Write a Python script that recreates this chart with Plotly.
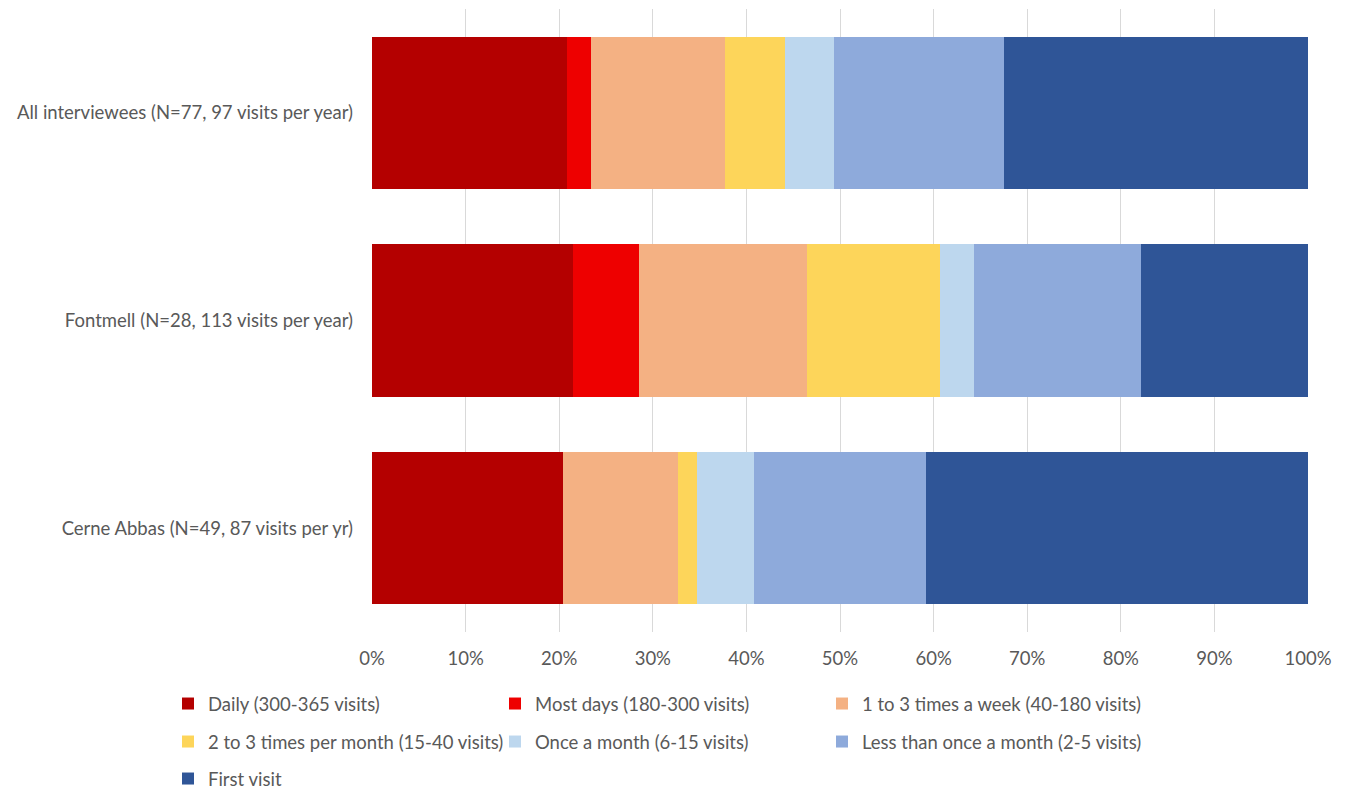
import plotly.graph_objects as go

categories = ["All interviewees (N=77, 97 visits per year)",
              "Fontmell (N=28, 113 visits per year)",
              "Cerne Abbas (N=49, 87 visits per yr)"]

series_names = ["Daily (300-365 visits)", "Most days (180-300 visits)",
                "1 to 3 times a week (40-180 visits)",
                "2 to 3 times per month (15-40 visits)", "Once a month (6-15 visits)",
                "Less than once a month (2-5 visits)", "First visit"]

daily = [20.78, 21.43, 20.41]
most_days = [2.60, 7.14, 0.0]
week_1_3 = [14.29, 17.86, 12.24]
month_2_3 = [6.49, 14.29, 2.04]
once_month = [5.19, 3.57, 6.12]
less_month = [18.18, 17.86, 18.37]
first_visit = [32.47, 17.86, 40.82]

colors = ["#b40000", "#ee0000", "#f4b183", "#fdd55a", "#bdd7ee", "#8eaadb", "#2f5597"]
series_values = [daily, most_days, week_1_3, month_2_3, once_month, less_month, first_visit]
legend_rows = ["legend", "legend", "legend", "legend2", "legend2", "legend2", "legend3"]

FONT = "Lato, 'Open Sans', sans-serif"
GREY = "#595959"
FS = 18.5

W, H = 1347, 792
ML, MR, MT, MB = 372, 39, 9, 160
PW, PH = W - ML - MR, H - MT - MB


def px_to_paper_y(py):
    return (H - MB - py) / PH


def px_to_paper_x(px):
    return (px - ML) / PW


fig = go.Figure()
for name, vals, col, lg in zip(series_names, series_values, colors, legend_rows):
    fig.add_trace(go.Bar(
        y=categories, x=vals, name=name, orientation="h",
        marker=dict(color=col, line=dict(width=0)),
        legend=lg,
    ))

leg_common = dict(orientation="h", xref="paper", yref="paper",
                  x=px_to_paper_x(168), xanchor="left", yanchor="middle",
                  font=dict(family=FONT, size=FS, color=GREY),
                  entrywidth=282, entrywidthmode="pixels",
                  bgcolor="rgba(0,0,0,0)", itemwidth=30, traceorder="normal")

fig.update_layout(
    width=W, height=H,
    barmode="stack", bargap=0.265,
    plot_bgcolor="white", paper_bgcolor="white",
    margin=dict(l=ML, r=MR, t=MT, b=MB, autoexpand=False),
    font=dict(family=FONT, size=FS, color=GREY),
    xaxis=dict(range=[0, 100], dtick=10, ticksuffix="%", showgrid=True,
               gridcolor="#d9d9d9", gridwidth=1, zeroline=False,
               showline=False, ticks="", ticklabelstandoff=13,
               tickfont=dict(family=FONT, size=FS, color=GREY)),
    yaxis=dict(autorange="reversed", showgrid=False, zeroline=False,
               showline=False, ticks="", ticklabelstandoff=18,
               tickfont=dict(family=FONT, size=FS, color=GREY)),
    legend=dict(leg_common, y=px_to_paper_y(704)),
    legend2=dict(leg_common, y=px_to_paper_y(742)),
    legend3=dict(leg_common, y=px_to_paper_y(779)),
)

fig.write_html("out.html")
